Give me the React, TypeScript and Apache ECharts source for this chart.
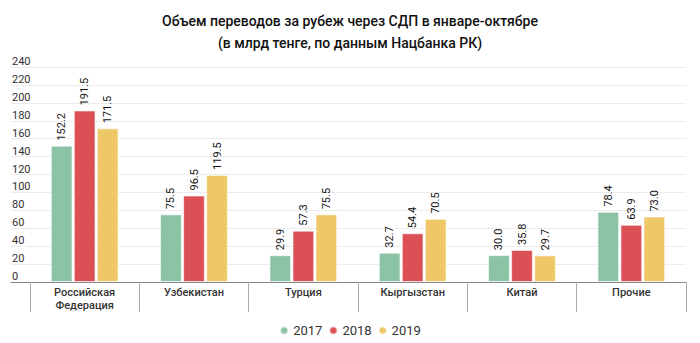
import React, { useEffect, useRef } from "react";
import * as echarts from "echarts";

const categories = ["Российская\nФедерация", "Узбекистан", "Турция", "Кыргызстан", "Китай", "Прочие"];
const years = ["2017", "2018", "2019"];
const values2017 = [152.2, 75.5, 29.9, 32.7, 30.0, 78.4];
const values2018 = [191.5, 96.5, 57.3, 54.4, 35.8, 63.9];
const values2019 = [171.5, 119.5, 75.5, 70.5, 29.7, 73.0];
const colors = ["#8cc3a6", "#db5055", "#eec866"];
const titleLines = ["Объем переводов за рубеж через СДП в январе-октябре", "(в млрд тенге, по данным Нацбанка РК)"];

export default function App() {
  const ref = useRef<HTMLDivElement>(null);
  useEffect(() => {
    document.body.style.margin = "0";
    const chart = echarts.init(ref.current!, null, { renderer: "svg" });
    const font = "Roboto, sans-serif";
    const seriesData = [values2017, values2018, values2019];
    chart.setOption({
      animation: false,
      textStyle: { fontFamily: font },
      title: {
        text: titleLines.join("\n"),
        left: "center",
        top: 5,
        textStyle: { fontFamily: font, fontSize: 14, fontWeight: 500, color: "#111", lineHeight: 22 },
      },
      legend: {
        bottom: 1,
        left: "center",
        icon: "circle",
        itemWidth: 8,
        itemHeight: 8,
        itemGap: 6,
        textStyle: { fontFamily: font, fontSize: 13, color: "#333" },
        data: years,
      },
      grid: [
        { left: 30, right: 14, top: 67, bottom: 61 },
        { left: 11, right: 14, top: 67, bottom: 61 },
      ],
      xAxis: [
        {
          type: "category",
          gridIndex: 0,
          data: categories,
          axisLine: { show: false },
          axisTick: { show: true, length: 30, lineStyle: { color: "#aaa" } },
          axisLabel: { fontFamily: font, fontSize: 11, color: "#333", fontWeight: 500, margin: 4, lineHeight: 13 },
        },
        {
          type: "value",
          gridIndex: 1,
          min: 0,
          max: 1,
          axisLine: { show: true, onZero: false, lineStyle: { color: "#888" } },
          axisTick: { show: false },
          axisLabel: { show: false },
          splitLine: { show: false },
        },
      ],
      yAxis: [
        {
          type: "value",
          gridIndex: 0,
          min: 0,
          max: 240,
          interval: 20,
          axisLabel: { show: false },
          splitLine: { show: false },
          axisLine: { show: false },
          axisTick: { show: false },
        },
        {
          type: "value",
          gridIndex: 1,
          min: 0,
          max: 240,
          interval: 20,
          axisLine: { show: false },
          axisTick: { show: false },
          axisLabel: {
            fontFamily: font,
            fontSize: 11,
            color: "#333",
            align: "left",
            verticalAlign: "bottom",
            margin: -1,
          },
          splitLine: { lineStyle: { color: "#ebebeb" } },
        },
      ],
      series: years.map((y, i) => ({
        name: y,
        type: "bar",
        xAxisIndex: 0,
        yAxisIndex: 0,
        data: seriesData[i],
        barGap: "6%",
        barCategoryGap: "38%",
        itemStyle: { color: colors[i], borderColor: "rgba(255,255,255,0.6)", borderWidth: 1 },
        label: {
          show: true,
          position: "top",
          rotate: 90,
          align: "left",
          verticalAlign: "middle",
          distance: 5,
          fontFamily: font,
          fontSize: 11,
          color: "#111",
          formatter: (p: any) => p.value.toFixed(1),
        },
      })),
    });
    return () => chart.dispose();
  }, []);
  return <div ref={ref} style={{ width: 700, height: 343 }} />;
}
